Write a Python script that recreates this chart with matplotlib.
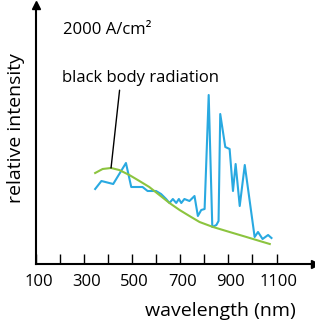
import matplotlib.pyplot as plt
from matplotlib.transforms import ScaledTranslation

plt.rcParams['font.family'] = ['Open Sans', 'DejaVu Sans']

# measured spectrum
wl = [346, 372, 421, 474, 496, 543, 564, 599, 620, 641, 655, 669, 683, 694, 704,
      717, 738, 759, 773, 787, 801, 818, 833, 850, 859, 866, 887, 905, 919, 930,
      947, 968, 1009, 1023, 1042, 1065, 1079]
intensity = [75, 83, 80, 101, 77, 77, 73, 73, 70, 65, 61, 65, 61, 65, 61,
             65, 63, 68, 48, 54, 55, 169, 37, 39, 43, 150, 117, 115, 73, 100,
             58, 99, 27, 32, 25, 29, 26]

# black body curve
bb_wl = [346, 377, 412, 446, 488, 530, 571, 613, 655, 697, 738, 780, 836, 905,
         975, 1030, 1072]
bb_int = [91, 95, 96, 94, 89, 83, 77, 69, 61, 54, 48, 42, 37, 32, 27, 23, 20]

tick_pos = list(range(100, 1200, 100))
tick_labels = ['100', '', '300', '', '500', '', '700', '', '900', '', '1100']

fig = plt.figure(figsize=(3.15, 3.26), dpi=100)
ax = fig.add_axes([36 / 315, 62 / 326, 279 / 315, 259 / 326])

ax.plot(wl, intensity, color='#29a9e1', lw=1.5)
ax.plot(bb_wl, bb_int, color='#8cc43f', lw=1.5)

ax.set_xlim(100, 1260)
ax.set_ylim(0, 259)

for s in ['top', 'right']:
    ax.spines[s].set_visible(False)
ax.spines['left'].set_linewidth(1.5)
ax.spines['bottom'].set_linewidth(1.5)
# arrow heads
ax.plot(1, 0, '>k', ms=6, transform=ax.transAxes, clip_on=False)
ax.plot(0, 1, '^k', ms=6, transform=ax.transAxes, clip_on=False)

ax.set_xticks(tick_pos)
ax.set_xticklabels(tick_labels, fontsize=12)
ax.tick_params(axis='x', direction='in', length=7, width=1, pad=7)
ax.set_yticks([])
shift = ScaledTranslation(2.5 / 100, 0, fig.dpi_scale_trans)
for lab in ax.get_xticklabels():
    lab.set_transform(lab.get_transform() + shift)

ax.text(0.66, -0.182, 'wavelength (nm)', transform=ax.transAxes, fontsize=14,
        ha='center', va='center')
ax.text(-0.07, 0.525, 'relative intensity', transform=ax.transAxes, fontsize=14,
        ha='center', va='center', rotation=90)

ax.text(0.097, 0.903, '2000 A/cm²', transform=ax.transAxes, fontsize=12,
        va='center')
ax.annotate('black body radiation', xy=(412, 96), xytext=(0.093, 0.718),
            textcoords='axes fraction', fontsize=12, va='center',
            arrowprops=dict(arrowstyle='-', color='black', lw=1,
                            shrinkA=1, shrinkB=0, relpos=(0.37, 0)))

fig.savefig('out.png', dpi=100)
